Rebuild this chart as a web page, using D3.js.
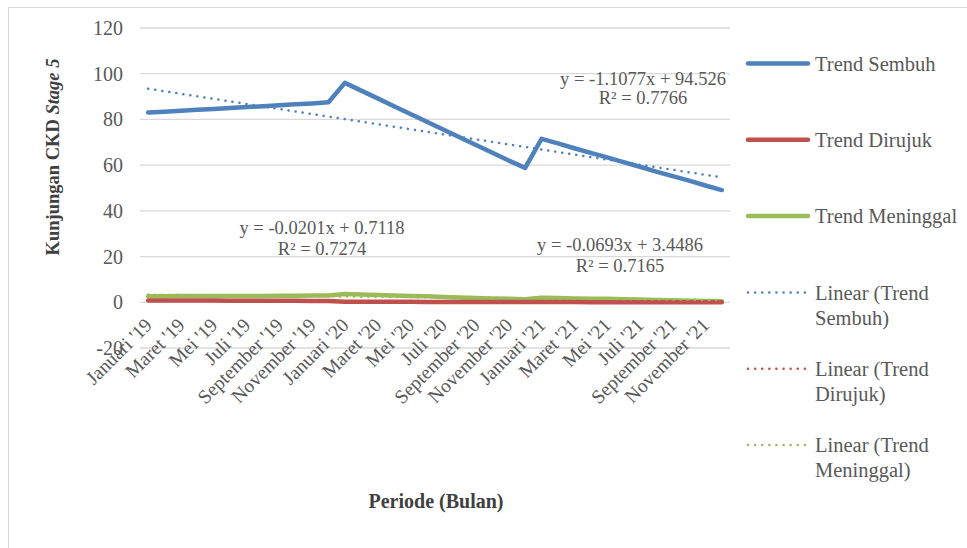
<!DOCTYPE html>
<html><head><meta charset="utf-8">
<script src="https://cdn.jsdelivr.net/npm/d3@7"></script>
<style>body{margin:0;background:#fff;} svg{display:block;} text{font-family:"Liberation Serif","Times New Roman",Times,serif;}</style>
</head><body>
<svg id="c" width="967" height="548"></svg>
<script>
const months = ["Januari '19","Februari '19","Maret '19","April '19","Mei '19","Juni '19","Juli '19","Agustus '19","September '19","Oktober '19","November '19","Desember '19",
"Januari '20","Februari '20","Maret '20","April '20","Mei '20","Juni '20","Juli '20","Agustus '20","September '20","Oktober '20","November '20","Desember '20",
"Januari '21","Februari '21","Maret '21","April '21","Mei '21","Juni '21","Juli '21","Agustus '21","September '21","Oktober '21","November '21","Desember '21"];
const sembuh = [83,83.4,83.8,84.2,84.6,85,85.4,85.8,86.2,86.6,87,87.5,
96,92.6,89.2,85.8,82.4,79,75.6,72.2,68.8,65.4,62,58.8,
71.5,69.5,67.4,65.4,63.4,61.3,59.3,57.2,55.2,53.2,51.1,49.1];
const dirujuk = [0.8,0.8,0.8,0.75,0.75,0.7,0.7,0.7,0.65,0.65,0.6,0.6,
0.2,0.2,0.2,0.2,0.2,0.15,0.15,0.15,0.15,0.1,0.1,0.1,
0.1,0.1,0.1,0.05,0.05,0.05,0.05,0,0,0,0,0];
const meninggal = [2.6,2.6,2.7,2.7,2.7,2.8,2.8,2.8,2.9,2.9,3,3,
3.6,3.4,3.2,3,2.8,2.6,2.3,2.1,1.9,1.7,1.5,1.3,
2,1.9,1.7,1.6,1.5,1.3,1.2,1,0.9,0.7,0.6,0.5];
const yTicks = [-20,0,20,40,60,80,100,120];
const trends = [
  {name:"Sembuh", slope:-1.1077, intercept:94.526, eq:"y = -1.1077x + 94.526", r2:"R² = 0.7766"},
  {name:"Dirujuk", slope:-0.0201, intercept:0.7118, eq:"y = -0.0201x + 0.7118", r2:"R² = 0.7274"},
  {name:"Meninggal", slope:-0.0693, intercept:3.4486, eq:"y = -0.0693x + 3.4486", r2:"R² = 0.7165"}
];
const colors = {Sembuh:"#4F81BD", Dirujuk:"#C0504D", Meninggal:"#9BBB59"};
const series = [{name:"Sembuh", values:sembuh},{name:"Dirujuk", values:dirujuk},{name:"Meninggal", values:meninggal}];

const svg = d3.select("#c");
svg.append("rect").attr("x",8.5).attr("y",7.5).attr("width",970).attr("height",560).attr("fill","none").attr("stroke","#d9d9d9");

const x = d3.scaleBand().domain(months).range([140,730]);
const xc = d => x(d)+x.bandwidth()/2;
const y = d3.scaleLinear().domain([-20,120]).range([348,28]);

// gridlines
svg.append("g").selectAll("line").data(yTicks).join("line")
  .attr("x1",140).attr("x2",730).attr("y1",d=>y(d)).attr("y2",d=>y(d))
  .attr("stroke","#d9d9d9").attr("stroke-width",1.3);
// y labels
svg.append("g").selectAll("text").data(yTicks).join("text")
  .attr("x",123).attr("y",d=>y(d)).attr("dy","0.35em").attr("text-anchor","end")
  .attr("fill","#595959").attr("font-size",20).text(d=>d);

// x labels (every other month)
svg.append("g").selectAll("text").data(months.filter((m,i)=>i%2===0)).join("text")
  .attr("transform",d=>`translate(${xc(d)+5},${y(0)+24}) rotate(-45)`)
  .attr("text-anchor","end").attr("fill","#595959").attr("font-size",19.5).text(d=>d);

// series lines
const line = d3.line().x((d,i)=>xc(months[i])).y(d=>y(d));
series.slice().reverse().forEach(s=>{
  svg.append("path").datum(s.values).attr("d",line).attr("fill","none")
    .attr("stroke",colors[s.name]).attr("stroke-width",4.5).attr("stroke-linejoin","round").attr("stroke-linecap","round");
});
// trend lines
trends.forEach(t=>{
  const pts = [1,36].map(k=>[xc(months[k-1]), y(t.slope*k+t.intercept)]);
  svg.append("path").attr("d",d3.line()(pts)).attr("fill","none")
    .attr("stroke",colors[t.name]).attr("stroke-width",2.5).attr("stroke-dasharray","0.1 7").attr("stroke-linecap","round");
});

// trend labels
const labelPos = {Sembuh:[643,85,104], Dirujuk:[322,234,255], Meninggal:[620,251,272]};
trends.forEach(t=>{
  const p = labelPos[t.name];
  svg.append("text").attr("x",p[0]).attr("y",p[1]).attr("text-anchor","middle").attr("fill","#595959").attr("font-size",18.5).text(t.eq);
  svg.append("text").attr("x",p[0]).attr("y",p[2]).attr("text-anchor","middle").attr("fill","#595959").attr("font-size",18.5).text(t.r2);
});

// axis titles
const yt = svg.append("text").attr("transform","translate(59,157) rotate(-90)").attr("text-anchor","middle")
  .attr("fill","#404040").attr("font-size",18.5).attr("font-weight","bold");
yt.append("tspan").text("Kunjungan CKD ");
yt.append("tspan").attr("font-style","italic").text("Stage 5");
svg.append("text").attr("x",436).attr("y",508).attr("text-anchor","middle").attr("fill","#404040")
  .attr("font-size",20).attr("font-weight","bold").text("Periode (Bulan)");

// legend
const legend = [
  {name:"Sembuh", dotted:false, lines:["Trend Sembuh"]},
  {name:"Dirujuk", dotted:false, lines:["Trend Dirujuk"]},
  {name:"Meninggal", dotted:false, lines:["Trend Meninggal"]},
  {name:"Sembuh", dotted:true, lines:["Linear (Trend","Sembuh)"]},
  {name:"Dirujuk", dotted:true, lines:["Linear (Trend","Dirujuk)"]},
  {name:"Meninggal", dotted:true, lines:["Linear (Trend","Meninggal)"]}
];
legend.forEach((l,i)=>{
  const ly = 63.5 + i*76.3;
  svg.append("line").attr("x1",748).attr("x2",808).attr("y1",ly).attr("y2",ly)
    .attr("stroke",colors[l.name]).attr("stroke-width",l.dotted?2.5:4.5).attr("stroke-linecap","round")
    .attr("stroke-dasharray",l.dotted?"0.1 7":null);
  l.lines.forEach((tx,j)=>{
    svg.append("text").attr("x",815).attr("y",ly+j*25).attr("dy","0.35em").attr("fill","#595959").attr("font-size",20.5).text(tx);
  });
});
</script>
</body></html>
